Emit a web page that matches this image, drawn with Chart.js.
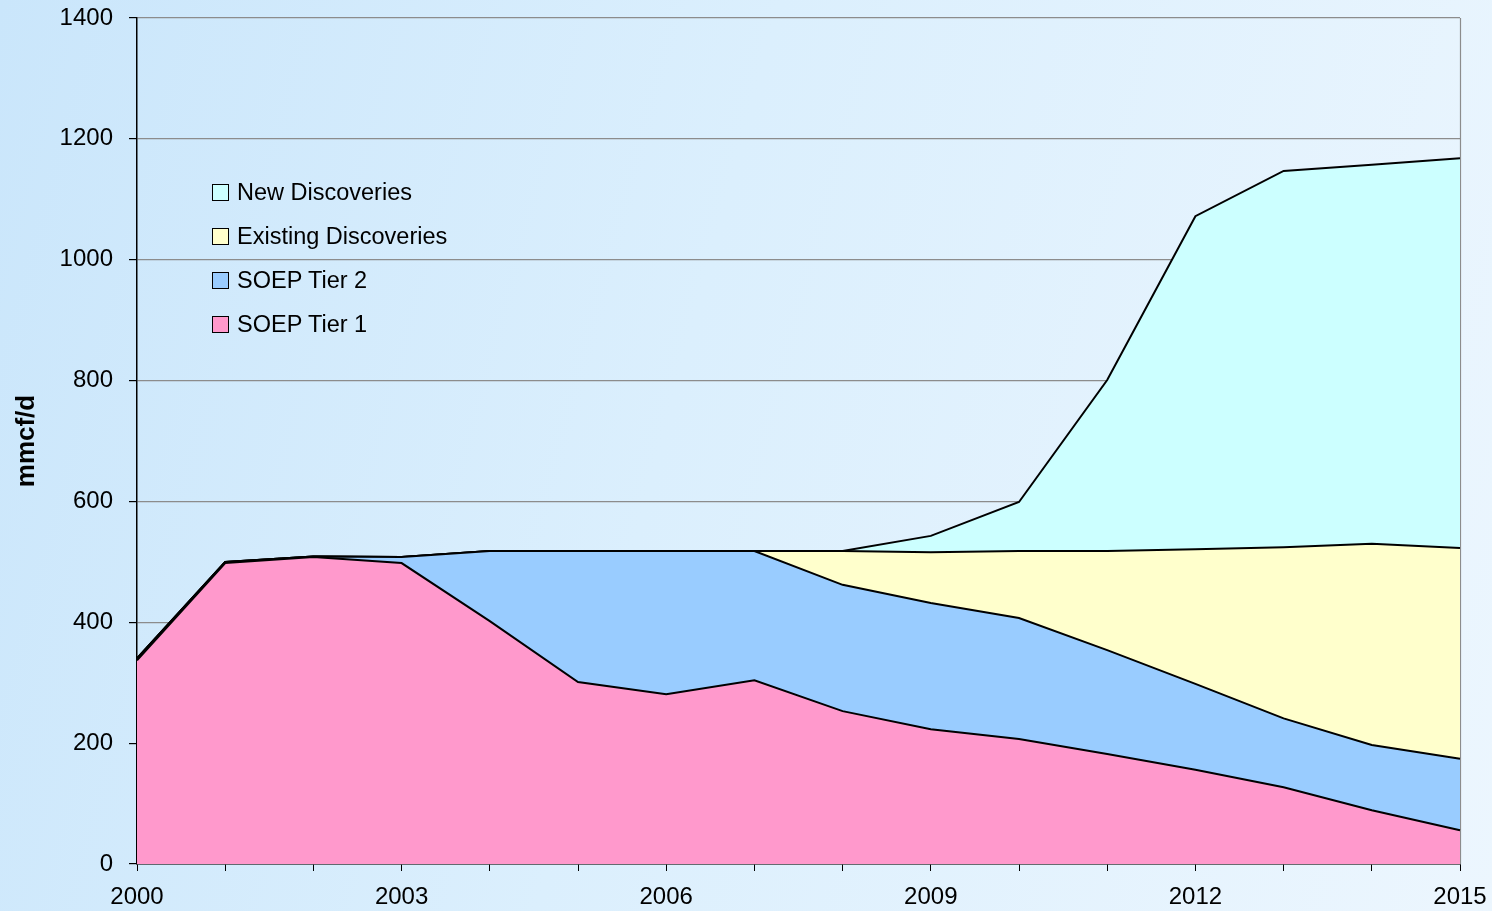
<!DOCTYPE html>
<html>
<head>
<meta charset="utf-8">
<script src="https://cdn.jsdelivr.net/npm/chart.js@4.4.1/dist/chart.umd.min.js"></script>
<style>
  html, body { margin: 0; padding: 0; }
  body {
    width: 1492px; height: 911px; overflow: hidden;
    background: linear-gradient(105deg, #cae6fb 0%, #dbeffd 45%, #ecf6fe 100%);
    font-family: "Liberation Sans", Arial, sans-serif;
  }
  #wrap { position: relative; width: 1492px; height: 911px; }
  canvas { position: absolute; left: 0; top: 0; }
  #legend { position: absolute; left: 212px; top: 177px; }
  .item { height: 44px; display: flex; align-items: flex-start; }
  .box { width: 15px; height: 15px; border: 1px solid #000; margin-top: 7px; margin-right: 8px; }
  .lbl { font-size: 23.5px; color: #000; line-height: 30px; }
</style>
</head>
<body>
<div id="wrap">
  <canvas id="c" width="1492" height="911"></canvas>
  <div id="legend"></div>
</div>
<script>
const years = ['2000','2001','2002','2003','2004','2005','2006','2007','2008','2009','2010','2011','2012','2013','2014','2015'];
const soepTier1 = [337, 498, 508, 498, 402, 301, 281, 304, 253, 223, 207, 182, 156, 127, 89, 56];
const soepTier2 = [3, 2, 1, 10, 116, 217, 237, 214, 209, 209, 200, 172, 142, 114, 108, 118];
const existingDiscoveries = [0, 0, 0, 0, 0, 0, 0, 0, 56, 84, 111, 164, 223, 283, 333, 349];
const newDiscoveries = [0, 0, 0, 0, 0, 0, 0, 0, 0, 27, 81, 283, 551, 623, 627, 645];
const yTicks = [0, 200, 400, 600, 800, 1000, 1200, 1400];

const seriesNames = ['SOEP Tier 1', 'SOEP Tier 2', 'Existing Discoveries', 'New Discoveries'];
const seriesData = [soepTier1, soepTier2, existingDiscoveries, newDiscoveries];
const seriesColors = ['#ff99cc', '#99ccff', '#ffffcc', '#ccffff'];

const datasets = seriesNames.map((n, i) => ({
  label: n,
  data: seriesData[i],
  backgroundColor: seriesColors[i],
  borderColor: '#000000',
  borderWidth: 2,
  pointRadius: 0,
  tension: 0,
  fill: i === 0 ? 'origin' : '-1'
}));

// HTML legend (reverse order)
const legend = document.getElementById('legend');
for (let i = seriesNames.length - 1; i >= 0; i--) {
  const it = document.createElement('div');
  it.className = 'item';
  const b = document.createElement('div');
  b.className = 'box';
  b.style.background = seriesColors[i];
  const t = document.createElement('div');
  t.className = 'lbl';
  t.textContent = seriesNames[i];
  it.appendChild(b); it.appendChild(t);
  legend.appendChild(it);
}

const rightBorder = {
  id: 'rightBorder',
  beforeDatasetsDraw(chart) {
    const {ctx, chartArea: a} = chart;
    ctx.save();
    ctx.strokeStyle = '#8c8c8c';
    ctx.lineWidth = 1.2;
    ctx.beginPath();
    ctx.moveTo(a.right + 0.5, a.top);
    ctx.lineTo(a.right + 0.5, a.bottom);
    ctx.stroke();
    ctx.restore();
  }
};

Chart.defaults.font.family = '"Liberation Sans", Arial, sans-serif';
Chart.defaults.color = '#000';

new Chart(document.getElementById('c'), {
  type: 'line',
  data: { labels: years, datasets },
  plugins: [rightBorder],
  options: {
    responsive: false,
    animation: false,
    layout: { padding: { left: 0, top: 18, right: 32, bottom: 0 } },
    plugins: { legend: { display: false }, tooltip: { enabled: false } },
    scales: {
      x: {
        type: 'category',
        offset: false,
        grid: { drawOnChartArea: false, drawTicks: true, tickLength: 7, color: '#000', tickColor: '#000' },
        border: { color: '#000', width: 1.5 },
        ticks: {
          autoSkip: false,
          maxRotation: 0,
          padding: 12,
          font: { size: 24 },
          callback: (v, i) => (i % 3 === 0 ? years[i] : '')
        },
        afterFit: (s) => { s.height = 47; s.paddingLeft = 0; s.paddingRight = 0; }
      },
      y: {
        stacked: true,
        min: 0,
        max: 1400,
        afterBuildTicks: (s) => { s.ticks = yTicks.map(v => ({ value: v })); },
        grid: { color: '#8c8c8c', lineWidth: 1.2, tickLength: 8, tickColor: '#000', drawTicks: true },
        border: { color: '#000', width: 1.5 },
        ticks: { padding: 16, font: { size: 24 }, callback: (v) => String(v) },
        title: {
          display: true,
          text: 'mmcf/d',
          font: { size: 26, weight: 'bold' },
          padding: { top: 11, bottom: 0 }
        },
        afterFit: (s) => { s.width = 137; s.paddingTop = 0; s.paddingBottom = 0; }
      }
    }
  }
});
</script>
</body>
</html>
